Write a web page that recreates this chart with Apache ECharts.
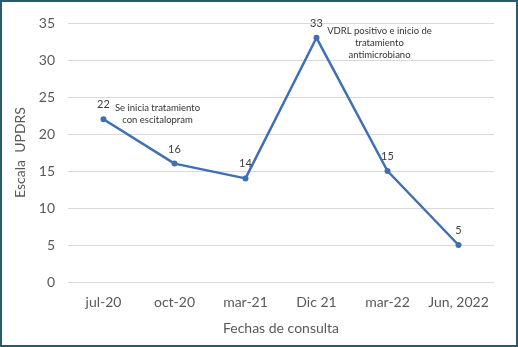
<!DOCTYPE html>
<html>
<head>
<meta charset="utf-8">
<script src="https://cdn.jsdelivr.net/npm/echarts@6/dist/echarts.min.js"></script>
<style>
  html, body { margin: 0; padding: 0; background: #fff; }
  #chart { width: 514px; height: 343px; border: 2px solid #2b5a6e; }
</style>
</head>
<body>
<div id="chart"></div>
<script>
var fechas = ['jul-20', 'oct-20', 'mar-21', 'Dic 21', 'mar-22', 'Jun, 2022'];
var updrs = [22, 16, 14, 33, 15, 5];
var notas = [
    {idx: 0, text: 'Se inicia tratamiento\ncon escitalopram'},
    {idx: 3, text: 'VDRL positivo e inicio de\ntratamiento\nantimicrobiano'}
];

var font = 'Lato';
var myChart = echarts.init(document.getElementById('chart'));
option = {
    textStyle: {fontFamily: font},
    grid: {
        left: 66,
        right: 22,
        top: 21,
        bottom: 63
    },
    xAxis: {
        type: 'category',
        data: fechas,
        name: 'Fechas de consulta',
        nameLocation: 'center',
        nameGap: 39,
        nameTextStyle: {fontSize: 14, color: '#595959', fontFamily: font},
        axisLine: {show: false},
        axisTick: {show: false},
        axisLabel: {fontSize: 14, color: '#595959', margin: 13, interval: 0}
    },
    yAxis: {
        type: 'value',
        min: 0,
        max: 35,
        interval: 5,
        name: 'Escala  UPDRS',
        nameLocation: 'center',
        nameGap: 35,
        nameTextStyle: {fontSize: 14, color: '#595959', fontFamily: font},
        axisLabel: {fontSize: 14, color: '#595959', margin: 13},
        splitLine: {lineStyle: {color: '#d9d9d9', width: 1}}
    },
    series: [
        {
            type: 'line',
            data: updrs,
            symbol: 'circle',
            symbolSize: 6,
            lineStyle: {color: '#3f6fb5', width: 2.5},
            itemStyle: {color: '#3f6fb5'},
            label: {
                show: true,
                position: 'top',
                distance: 6,
                fontSize: 11,
                color: '#404040'
            },
            markPoint: {
                symbol: 'circle',
                symbolSize: 0,
                silent: true,
                itemStyle: {color: 'transparent'},
                label: {
                    show: true,
                    position: 'inside',
                    fontSize: 9.5,
                    lineHeight: 12,
                    color: '#333',
                    align: 'center',
                    verticalAlign: 'middle',
                    fontFamily: font
                },
                data: notas.map(function (n) {
                    return {
                        coord: [n.idx, updrs[n.idx]],
                        label: {
                            formatter: n.text,
                            offset: n.idx === 0 ? [54, -5] : [63, 5]
                        }
                    };
                })
            }
        }
    ]
};
myChart.setOption(option);
</script>
</body>
</html>
